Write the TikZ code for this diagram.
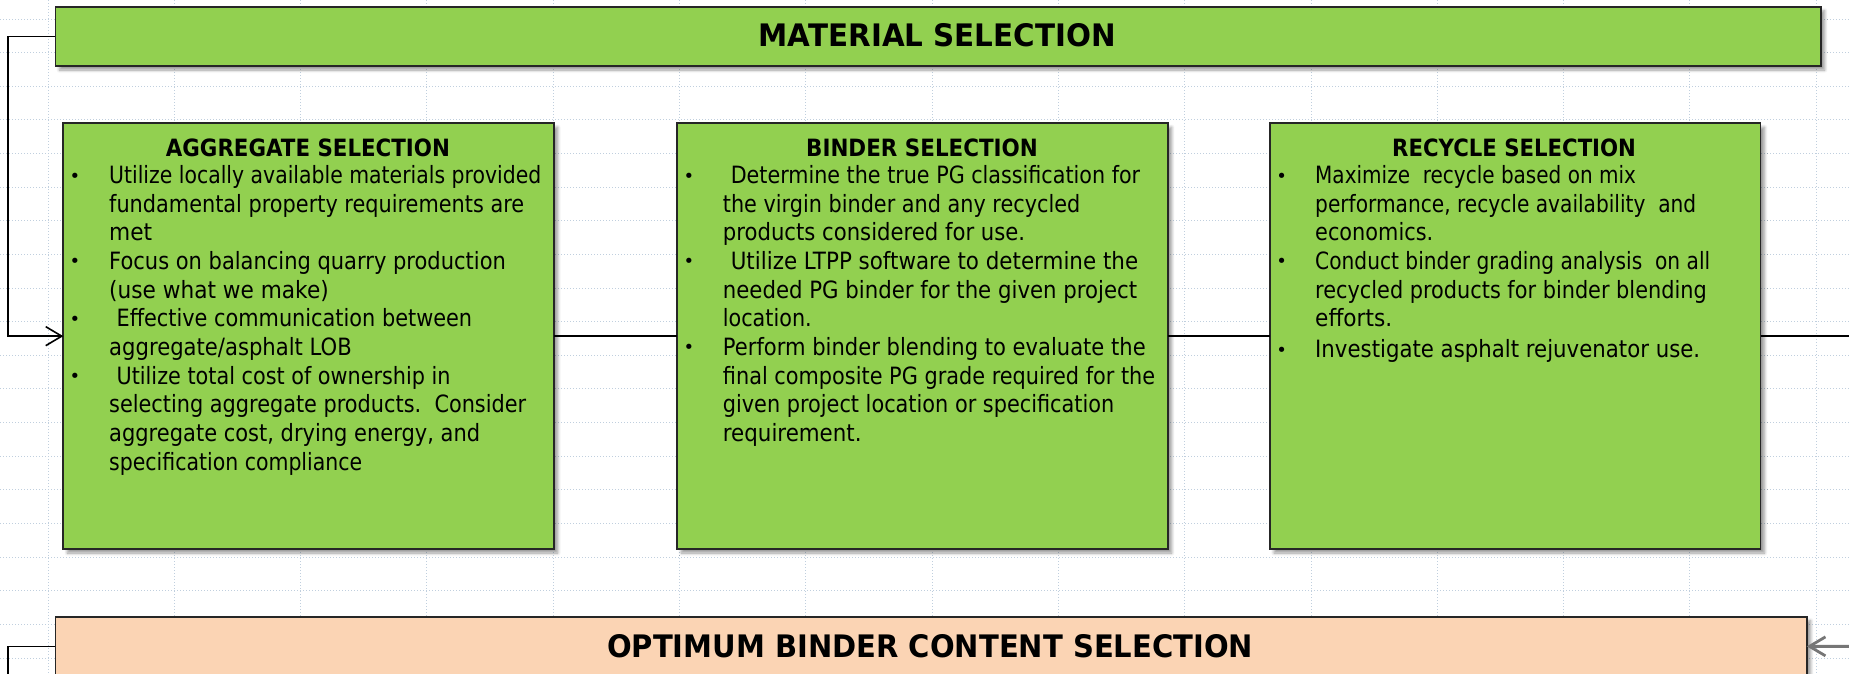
\documentclass[tikz,border=0pt]{standalone}
\usepackage{fontspec}
\setmainfont{DejaVu Sans}
\usepackage{graphicx}
\usetikzlibrary{arrows.meta,shadows.blur}

\definecolor{boxgreen}{RGB}{146,208,80}
\definecolor{boxpeach}{RGB}{251,212,180}
\definecolor{gridblue}{RGB}{192,207,222}
\definecolor{feedgray}{RGB}{118,118,118}

% typeset #2, then stretch or squeeze it horizontally to exactly #1 pt
\newsavebox\fitbox
\newcommand\fitto[2]{\sbox\fitbox{#2}\pgfmathsetmacro\fitx{#1/\the\wd\fitbox}\scalebox{\fitx}[1]{\usebox\fitbox}}
% list rows: #1 indent of the text, #2 width of the text, #3 the text
\newcommand\bulletmark{\kern-7.5pt\raisebox{1.5pt}{\fontsize{18}{18}\selectfont\textbullet}}
\newcommand\bulletrow[3]{\hbox{\rlap{\bulletmark}\kern#1pt\fitto{#2}{#3}}}
\newcommand\controw[3]{\hbox{\kern#1pt\fitto{#2}{#3}}}
\newcommand\listblock[1]{\vtop{\baselineskip=28.65pt\lineskiplimit=-100pt\lineskip=0pt #1}}

\tikzset{
  gridline/.style={gridblue, line width=0.9pt, dash pattern=on 1pt off 2pt},
  panel/.style={draw=black!85, line width=1.8pt, outer sep=0pt, inner sep=0pt,
    blur shadow={shadow xshift=4pt, shadow yshift=-4pt, shadow blur radius=3pt,
      shadow blur steps=6, shadow opacity=40}},
  banner/.style={panel, minimum height=59.3pt},
  card/.style={panel, fill=boxgreen, minimum width=490.5pt, minimum height=425.7pt, anchor=north west},
  titletext/.style={inner sep=0pt, anchor=base west, font=\fontsize{31}{36}\selectfont\bfseries},
  headtext/.style={inner sep=0pt, anchor=base west, font=\fontsize{23.8}{28.65}\selectfont\bfseries},
  bodytext/.style={inner sep=0pt, anchor=base west, font=\fontsize{23.8}{28.65}\selectfont},
  link/.style={draw=black, line width=1.6pt},
  feed/.style={draw=feedgray, line width=2.8pt},
  barb/.style={-{Straight Barb[length=16pt, width=19pt]}}
}

\begin{document}
\begin{tikzpicture}[x=1pt, y=-1pt]
\useasboundingbox (0,0) rectangle (1849,673);

% sheet grid
\foreach \k in {0,...,14} \draw[gridline] (48+126.3*\k,0) -- (48+126.3*\k,673);
\foreach \k in {0,...,19} \draw[gridline] (0,19+33.63*\k) -- (1849,19+33.63*\k);

% banners
\node[banner, fill=boxgreen, minimum width=1765.3pt, anchor=north west] (material) at (55.4,6.7) {};
\node[titletext] (materialtitle) at (758.5,46.7) {\fitto{357.1}{MATERIAL SELECTION}};

\node[banner, fill=boxpeach, minimum width=1751.3pt, anchor=north west] (optimum) at (55.4,616.7) {};
\node[titletext] (optimumtitle) at (607,657) {\fitto{646}{OPTIMUM BINDER CONTENT SELECTION}};

% aggregate selection
\node[card] (aggregate) at (63.3,123.3) {};
\node[headtext] (aggregatehead) at (165.7,156) {\fitto{284.1}{AGGREGATE SELECTION}};
\node[bodytext] (aggregatelist) at (77,183.5) {\listblock{%
  \bulletrow{32}{432}{Utilize locally available materials provided}
  \controw{32}{415}{fundamental property requirements are}
  \controw{32}{43}{met}
  \bulletrow{32}{396.6}{Focus on balancing quarry production}
  \controw{32}{219.6}{(use what we make)}
  \bulletrow{39.4}{355.6}{Effective communication between}
  \controw{32}{242.6}{aggregate/asphalt LOB}
  \bulletrow{39.4}{334}{Utilize total cost of ownership in}
  \controw{32}{417}{selecting aggregate products.\ \ Consider}
  \controw{32}{371}{aggregate cost, drying energy, and}
  \controw{32}{253}{specification compliance}}};

% binder selection
\node[card] (binder) at (677.2,123.3) {};
\node[headtext] (binderhead) at (806,156) {\fitto{231.7}{BINDER SELECTION}};
\node[bodytext] (binderlist) at (691,183.5) {\listblock{%
  \bulletrow{39.6}{409.4}{Determine the true PG classification for}
  \controw{31.7}{357.3}{the virgin binder and any recycled}
  \controw{31.7}{302.3}{products considered for use.}
  \bulletrow{39.6}{407.4}{Utilize LTPP software to determine the}
  \controw{31.7}{414.3}{needed PG binder for the given project}
  \controw{31.7}{88.8}{location.}
  \bulletrow{31.7}{422.8}{Perform binder blending to evaluate the}
  \controw{31.7}{432.3}{final composite PG grade required for the}
  \controw{31.7}{391.3}{given project location or specification}
  \controw{31.7}{138.7}{requirement.}}};

% recycle selection
\node[card] (recycle) at (1270,123.3) {};
\node[headtext] (recyclehead) at (1392,156) {\fitto{243.8}{RECYCLE SELECTION}};
\node[bodytext] (recyclelist) at (1283.6,183.5) {\listblock{%
  \bulletrow{31.4}{320.8}{Maximize\ \ recycle based on mix}
  \controw{31.4}{381}{performance, recycle availability\ \ and}
  \controw{31.4}{118}{economics.}
  \bulletrow{31.4}{395}{Conduct binder grading analysis\ \ on all}
  \controw{31.4}{391.5}{recycled products for binder blending}
  \controw{31.4}{77}{efforts.}
  \vskip2.4pt
  \bulletrow{31.4}{385}{Investigate asphalt rejuvenator use.}}};

% connectors
\coordinate (recycleout) at (1860,336.15);
\coordinate (leftdown) at (8,690);
\coordinate (feedin) at (1860,646.35);

\draw[link, barb] (material.west) -- ++(-47.4,0) |- (aggregate.west);
\draw[link] (aggregate.east) -- (binder.west);
\draw[link] (binder.east) -- (recycle.west);
\draw[link] (recycle.east) -- (recycleout);
\draw[link] (optimum.west) -| (leftdown);
\draw[feed, barb] (feedin) -- (optimum.east);
\end{tikzpicture}
\end{document}
